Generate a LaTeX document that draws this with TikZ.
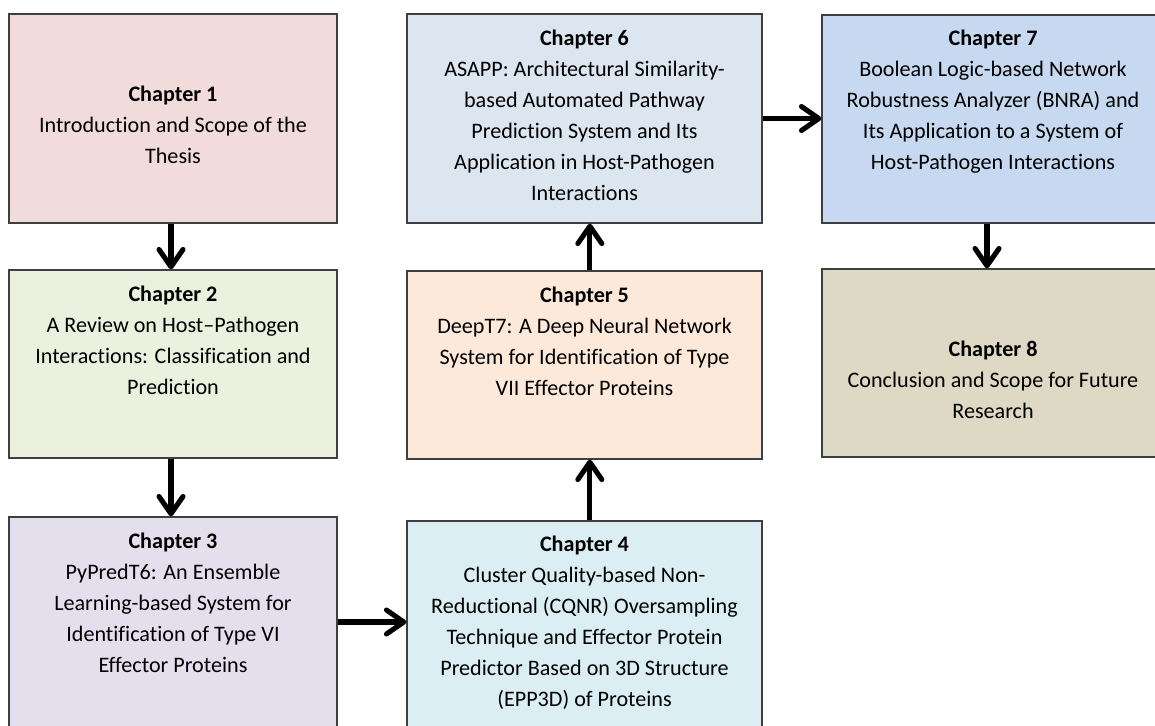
\documentclass[tikz,border=0pt]{standalone}
\usepackage{fontspec}
\setmainfont{Carlito}[Ligatures=NoCommon]
\usetikzlibrary{arrows.meta,fit}

\definecolor{boxline}{HTML}{3F3F3F}
\definecolor{fillA}{HTML}{F2DCDB}
\definecolor{fillB}{HTML}{EBF1DE}
\definecolor{fillC}{HTML}{E4DFEC}
\definecolor{fillD}{HTML}{DAEEF3}
\definecolor{fillE}{HTML}{FDE9D9}
\definecolor{fillF}{HTML}{DCE6F1}
\definecolor{fillG}{HTML}{C6D9F1}
\definecolor{fillH}{HTML}{DDD9C4}

\tikzset{
  chapbox/.style={draw=boxline, line width=1pt, inner sep=0pt},
  chaptxt/.style={anchor=base, inner sep=0pt, font=\fontsize{16.6}{23.25}\selectfont},
  flow/.style={line width=3.8pt, -{Straight Barb[length=13pt,width=18pt,round]}}
}
\newcommand\chaptext[2]{\begin{tabular}[t]{@{}c@{}}\textbf{#1}\\#2\end{tabular}}

\begin{document}
\begin{tikzpicture}[x=0.75pt, y=-0.75pt]
  \useasboundingbox (0,0) rectangle (1155,725);
  \clip (0,0) rectangle (1155,725);

  % chapter boxes
  \node[chapbox, fill=fillA, fit={(9,14) (337,223)}]   (c1) {};
  \node[chapbox, fill=fillB, fit={(9,270) (337,458)}]  (c2) {};
  \node[chapbox, fill=fillC, fit={(9,517) (337,727)}]  (c3) {};
  \node[chapbox, fill=fillD, fit={(407,521) (762,740)}] (c4) {};
  \node[chapbox, fill=fillE, fit={(407,271) (762,459)}] (c5) {};
  \node[chapbox, fill=fillF, fit={(407,14) (762,223)}]  (c6) {};
  \node[chapbox, fill=fillG, fit={(822,15) (1164,223)}] (c7) {};
  \node[chapbox, fill=fillH, fit={(822,269) (1164,457)}] (c8) {};

  % chapter titles
  \node[chaptxt] (t1) at (173,101) {\chaptext{Chapter 1}{Introduction and Scope of the\\Thesis}};
  \node[chaptxt] (t2) at (173,301) {\chaptext{Chapter 2}{A Review on Host–Pathogen\\Interactions: Classification and\\Prediction}};
  \node[chaptxt] (t3) at (173,548) {\chaptext{Chapter 3}{PyPredT6: An Ensemble\\Learning-based System for\\Identification of Type VI\\Effector Proteins}};
  \node[chaptxt] (t4) at (584.5,551) {\chaptext{Chapter 4}{Cluster Quality-based Non-\\Reductional (CQNR) Oversampling\\Technique and Effector Protein\\Predictor Based on 3D Structure\\(EPP3D) of Proteins}};
  \node[chaptxt] (t5) at (584.5,302) {\chaptext{Chapter 5}{DeepT7: A Deep Neural Network\\System for Identification of Type\\VII Effector Proteins}};
  \node[chaptxt] (t6) at (584.5,45) {\chaptext{Chapter 6}{ASAPP: Architectural Similarity-\\based Automated Pathway\\Prediction System and Its\\Application in Host-Pathogen\\Interactions}};
  \node[chaptxt] (t7) at (993,45) {\chaptext{Chapter 7}{Boolean Logic-based Network\\Robustness Analyzer (BNRA) and\\Its Application to a System of\\Host-Pathogen Interactions}};
  \node[chaptxt] (t8) at (993,356) {\chaptext{Chapter 8}{Conclusion and Scope for Future\\Research}};

  % reading order
  \draw[flow] ([xshift=-1.5pt]c1.south) -- ([xshift=-1.5pt]c2.north);
  \draw[flow] ([xshift=-1.5pt]c2.south) -- ([xshift=-1.5pt]c3.north);
  \draw[flow] (c3.east) -- (c3.east -| c4.west);
  \draw[flow] ([xshift=4pt]c4.north) -- ([xshift=4pt]c5.south);
  \draw[flow] ([xshift=4pt]c5.north) -- ([xshift=4pt]c6.south);
  \draw[flow] (c6.east) -- (c6.east -| c7.west);
  \draw[flow] ([xshift=-4.5pt]c7.south) -- ([xshift=-4.5pt]c8.north);
\end{tikzpicture}
\end{document}
